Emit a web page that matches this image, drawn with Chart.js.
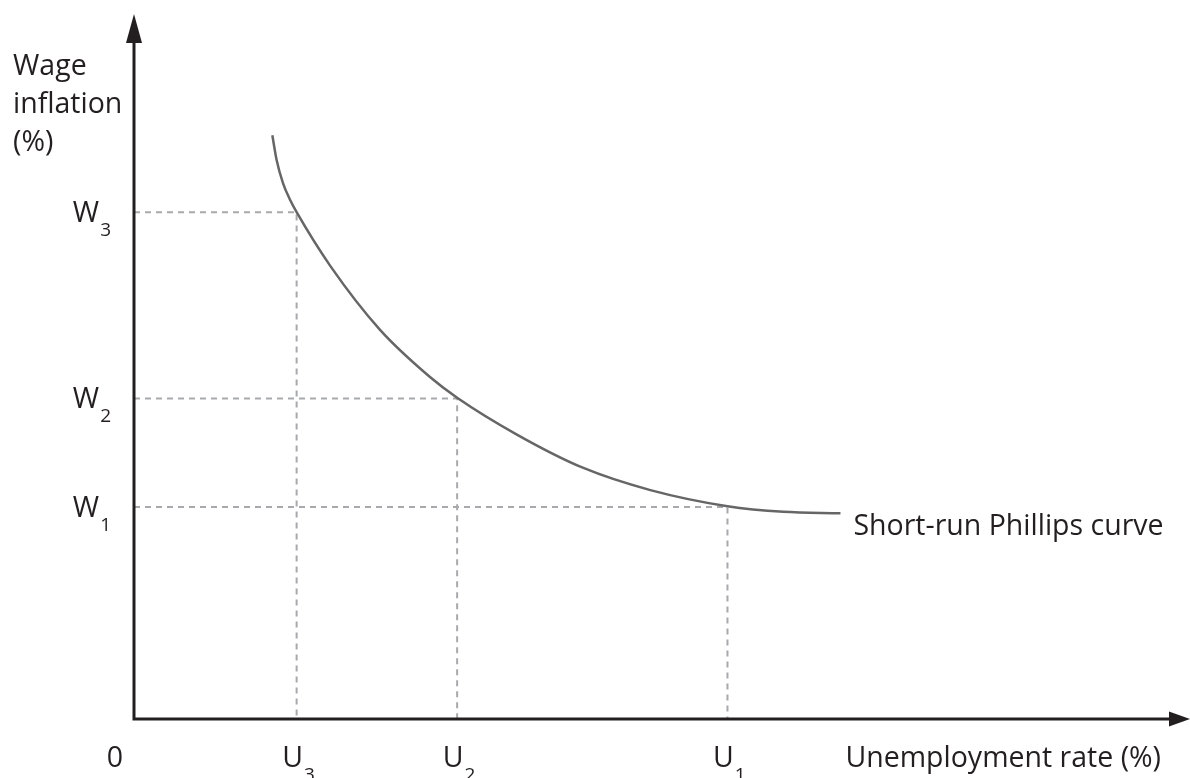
<!DOCTYPE html>
<html>
<head>
<meta charset="utf-8">
<script src="https://cdn.jsdelivr.net/npm/chart.js@4/dist/chart.umd.min.js"></script>
<style>
    html, body { margin: 0; padding: 0; background: #fff; }
    #wrap { width: 1190px; height: 778px; }
</style>
</head>
<body>
<div id="wrap"><canvas id="phillips" width="1190" height="778"></canvas></div>
<script>
// short-run Phillips curve (x = unemployment, y = wage inflation)
var curveU = [13.1, 13.5, 14.1, 14.8, 15.4, 18.6, 23.3, 28.0, 30.6, 36.3, 42.5, 48.9, 56.2, 61.5, 66.9];
var curveW = [83.4, 79.9, 76.6, 74.1, 72.4, 64.7, 55.6, 48.9, 45.9, 40.6, 35.9, 32.7, 30.4, 29.6, 29.4];

// marked points W1..W3 / U1..U3
var wLevels = [30.3, 45.8, 72.4];
var uLevels = [56.2, 30.6, 15.4];
var pointNames = ['1', '2', '3'];

var yTitle = ['Wage', 'inflation', '(%)'];
var xTitle = 'Unemployment rate (%)';
var curveName = 'Short-run Phillips curve';

var FONT = '"Open Sans", "Noto Sans", sans-serif';
var INK = '#231f20';

function curvePoints() {
    let pts = [];
    for (let i = 0; i < curveU.length; i++) {
        pts.push({ x: curveU[i], y: curveW[i] });
    }
    return pts;
}

function guideDatasets() {
    let sets = [];
    for (let i = 0; i < wLevels.length; i++) {
        sets.push({
            data: [{ x: 0, y: wLevels[i] }, { x: uLevels[i], y: wLevels[i] }, { x: uLevels[i], y: 0 }],
            showLine: true,
            borderColor: '#a7a9ac',
            borderWidth: 2,
            borderDash: [6, 5],
            pointRadius: 0,
            tension: 0
        });
    }
    return sets;
}

// letter with a small lowered digit
function subLabel(ctx, main, sub, x, base, align) {
    ctx.font = '28.5px ' + FONT;
    let mw = ctx.measureText(main).width;
    ctx.font = '19px ' + FONT;
    let sw = ctx.measureText(sub).width;
    let left = x;
    if (align == 'right') left = x - mw - sw - 1;
    if (align == 'center') left = x - mw / 2;
    ctx.textAlign = 'left';
    ctx.font = '28.5px ' + FONT;
    ctx.fillText(main, left, base);
    ctx.font = '19px ' + FONT;
    ctx.fillText(sub, left + mw + 1, base + 14);
}

var axesPlugin = {
    id: 'axesPlugin',
    afterDraw: function (chart) {
        let ctx = chart.ctx;
        let area = chart.chartArea;
        let xs = chart.scales.x, ys = chart.scales.y;
        let x0 = xs.getPixelForValue(0), y0 = ys.getPixelForValue(0);
        ctx.save();
        ctx.strokeStyle = INK;
        ctx.fillStyle = INK;
        ctx.lineWidth = 3;
        // axes
        ctx.beginPath();
        ctx.moveTo(x0, y0 + 1.5);
        ctx.lineTo(x0, area.top + 24);
        ctx.moveTo(x0 - 1.5, y0);
        ctx.lineTo(area.right - 16, y0);
        ctx.stroke();
        // arrow heads
        ctx.beginPath();
        ctx.moveTo(x0, area.top - 5);
        ctx.lineTo(x0 - 8, area.top + 24);
        ctx.lineTo(x0 + 8, area.top + 24);
        ctx.closePath();
        ctx.fill();
        ctx.beginPath();
        ctx.moveTo(area.right, y0);
        ctx.lineTo(area.right - 21, y0 - 7.5);
        ctx.lineTo(area.right - 21, y0 + 7.5);
        ctx.closePath();
        ctx.fill();

        // texts
        ctx.font = '28.5px ' + FONT;
        ctx.textBaseline = 'alphabetic';
        ctx.textAlign = 'left';
        for (let i = 0; i < yTitle.length; i++) {
            ctx.fillText(yTitle[i], 13, 75 + i * 38);
        }
        ctx.textAlign = 'right';
        ctx.fillText(xTitle, area.right - 29, y0 + 48);
        ctx.textAlign = 'center';
        ctx.fillText('0', x0 - 19, y0 + 48);
        ctx.textAlign = 'left';
        let last = curveU.length - 1;
        ctx.fillText(curveName, xs.getPixelForValue(curveU[last]) + 13, ys.getPixelForValue(curveW[last]) + 22);

        for (let i = 0; i < wLevels.length; i++) {
            subLabel(ctx, 'W', pointNames[i], x0 - 23, ys.getPixelForValue(wLevels[i]) + 10, 'right');
            subLabel(ctx, 'U', pointNames[i], xs.getPixelForValue(uLevels[i]) - 4, y0 + 48, 'center');
        }
        ctx.restore();
    }
};

var datasets = [{
    data: curvePoints(),
    showLine: true,
    borderColor: '#666666',
    borderWidth: 2.5,
    pointRadius: 0,
    cubicInterpolationMode: 'monotone'
}].concat(guideDatasets());

var ctx = document.getElementById('phillips');
var phillipsChart = new Chart(ctx, {
    type: 'scatter',
    data: { datasets: datasets },
    options: {
        responsive: false,
        animation: false,
        devicePixelRatio: 1,
        layout: { padding: { left: 134, right: 0, top: 19, bottom: 59 } },
        scales: {
            x: { type: 'linear', min: 0, max: 100, display: false },
            y: { type: 'linear', min: 0, max: 100, display: false }
        },
        plugins: {
            legend: { display: false },
            tooltip: { enabled: false }
        }
    },
    plugins: [axesPlugin]
});
</script>
</body>
</html>
